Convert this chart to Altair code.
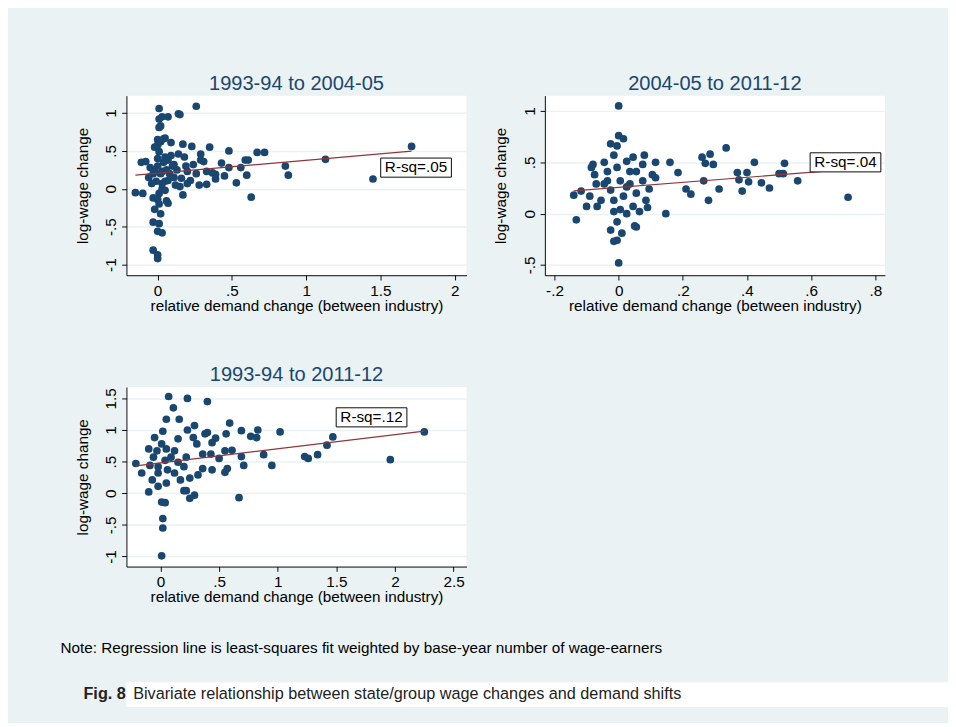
import altair as alt
import pandas as pd

# (relative demand change, log-wage change)
p1 = [(.01,1.06),(.26,1.09),(.01,.92),(.03,.95),(.07,.95),(.14,.99),(.15,.98),(.02,.83),(.01,.81),
      (.04,.66),(-.02,.55),(0,.65),(.05,.67),(.09,.61),(.17,.59),(.23,.56),(.35,.55),(.48,.50),
      (.67,.48),(.72,.48),(1.13,.39),(1.71,.56),(1.45,.13),(.86,.30),(.88,.18),(.63,-.11),(.53,.08),
      (.60,.18),(.56,.28),(.59,.38),(.61,.38),(.43,.34),(.48,.28),(.45,.17),(.39,.13),(.33,.06),
      (.28,.05),(-.15,-.05),(-.10,-.06),(-.11,.35),(-.08,.36),(-.05,.28),(-.06,.15),(-.02,-.27),
      (-.03,-.44),(0,-.56),(.03,-.58),(.01,-.46),(.02,-.33),(.07,-.19),(.06,-.16),(-.03,-.81),
      (0,-.87),(0,-.92),(-.04,.07),(.01,-.06),(.03,.07),(.05,-.02),(.11,.15),(.15,.03),(.17,-.08),
      (.2,.07),(.11,.32),(.2,.23),(.24,.32),(.29,.46),(.31,.36),(.33,.23),(.22,.11),(.09,.44),
      (.03,.23),(-.02,.23),(.01,.49),(.05,.42),(.14,.46),(.18,.42),(.07,.11),(0,-.14),(-.03,-.12),
      (.37,.21),(.39,.19),(.29,.38),(0,.3),(.02,.2),(-.01,.1),(.04,.35),(.06,.25),(.08,.2),(.1,.3),
      (.12,.05),(0,.4),(.03,0),(-.03,.2),(.05,.1),(.01,-.2),(.13,.25),(.07,.38),(.16,.14),(.19,.3),
      (.26,.2),(0,.58),(.02,.62)]
p2 = [(0,1.05),(0,.76),(.015,.73),(-.025,.68),(-.005,.66),(-.08,.48),(-.085,.45),(-.075,.38),
      (-.045,.5),(.045,.55),(.08,.57),(.115,.5),(.16,.5),(.185,.4),(.105,.38),(.115,.35),(.095,.24),
      (.21,.24),(.225,.19),(.265,.32),(.26,.55),(.285,.58),(.27,.49),(.295,.48),(.335,.64),(.28,.13),
      (.313,.24),(.37,.4),(.375,.33),(.4,.4),(.405,.31),(.423,.5),(.385,.22),(.445,.3),(.47,.25),
      (.5,.39),(.513,.39),(.517,.49),(.558,.32),(.715,.16),(-.14,.18),(-.117,.22),(-.132,-.06),
      (-.1,.07),(-.067,.07),(-.09,.17),(.147,0),(.05,-.12),(.055,-.13),(-.025,-.16),(-.015,-.27),
      (-.005,-.26),(0,-.48),(.01,-.19),(-.005,-.08),(-.015,.02),(.045,.07),(.065,.02),(.09,.06),
      (.085,.13),(-.045,.29),(-.025,.23),(.015,.17),(.035,.29),(.055,.41),(.025,.51),(-.015,.57),
      (-.035,.32),(.005,.32),(.025,.26),(-.055,.13),(-.015,.13),(.005,.04),(.075,.32),(-.07,.29),
      (-.005,.45),(-.035,.41),(.035,.41),(.055,.2),(.075,.48),(.025,0)]
p3 = [(.07,1.53),(.23,1.5),(.4,1.45),(.11,1.35),(.05,1.17),(.16,1.17),(.23,1.0),(.29,1.07),(.4,.96),
      (.38,.94),(.59,1.11),(.56,.94),(.69,.99),(.83,1.0),(.77,.9),(.82,.88),(1.02,.97),(1.47,.89),
      (1.42,.76),(1.34,.61),(1.23,.58),(1.26,.55),(1.96,.53),(2.25,.97),(.88,.61),(.95,.44),(.69,.58),
      (.71,.44),(.67,-.07),(.57,.39),(.55,.33),(.5,.55),(.55,.67),(.61,.68),(.44,.8),(.47,.87),
      (-.21,.47),(-.16,.32),(-.1,.02),(.02,-.4),(.02,-.55),(.01,-.99),(.01,-.14),(.04,-.15),(.25,-.08),
      (.29,-.03),(.22,.04),(.25,.24),(.32,.29),(.36,.39),(.44,.37),(.36,.62),(.43,.62),(.31,.78),
      (.28,.88),(.15,.86),(-.05,.88),(-.1,.7),(-.06,.57),(-.02,.42),(-.07,.21),(-.02,.11),(.05,.16),
      (.12,.32),(.17,.21),(.2,.42),(.09,.57),(.01,.78),(.05,.7),(.15,.49),(.22,.57),(.12,.67),
      (.2,.04),(.02,.98),(-.02,.32),(.04,.52),(.06,.37),(-.03,.67),(-.09,.44)]

titles = ['1993-94 to 2004-05', '2004-05 to 2011-12', '1993-94 to 2011-12']
rsq = ['R-sq=.05', 'R-sq=.04', 'R-sq=.12']
rsq_pos = [(1.74, .28), (.707, .5), (1.8, 1.2)]
x_dom = [(-.21, 2.08), (-.23, .83), (-.29, 2.61)]
y_dom = [(-1.14, 1.23), (-.6, 1.15), (-1.16, 1.68)]
x_ticks = [[0, .5, 1, 1.5, 2], [-.2, 0, .2, .4, .6, .8], [0, .5, 1, 1.5, 2, 2.5]]
y_ticks = [[-1, -.5, 0, .5, 1], [-.5, 0, .5, 1], [-1, -.5, 0, .5, 1, 1.5]]

NAVY = '#1a476f'
BG = '#eaf2f3'
strip0 = ("replace(replace(format(datum.value, '.1~f'), '\u2212', '-'), "
          "regexp('^(-?)0\\\\.'), '$1.')")


def panel(pts, i):
    df = pd.DataFrame(pts, columns=['x', 'y'])
    xs = alt.Scale(domain=list(x_dom[i]), nice=False, zero=False)
    ys = alt.Scale(domain=list(y_dom[i]), nice=False, zero=False)
    xe = alt.X('x:Q', scale=xs, title='relative demand change (between industry)',
               axis=alt.Axis(values=x_ticks[i], labelExpr=strip0, grid=False, titlePadding=0))
    ye = alt.Y('y:Q', scale=ys, title='log-wage change',
               axis=alt.Axis(values=y_ticks[i], labelExpr=strip0, labelAngle=270,
                             labelAlign='center', labelBaseline='bottom', titlePadding=14))
    base = alt.Chart(df)
    pts_layer = base.mark_circle(size=65, opacity=1, color=NAVY).encode(x=xe, y=ye)
    fit = base.transform_regression('x', 'y').mark_line(color='#90353b', strokeWidth=1.3).encode(x=xe, y=ye)
    lab = pd.DataFrame({'x': [rsq_pos[i][0]], 'y': [rsq_pos[i][1]], 't': [rsq[i]]})
    box = alt.Chart(lab).mark_rect(width=74, height=20, fill='white', stroke='black', strokeWidth=1).encode(x=xe, y=ye)
    txt = alt.Chart(lab).mark_text(fontSize=16, color='black').encode(x=xe, y=ye, text='t:N')
    return alt.layer(pts_layer, fit, box, txt).properties(
        width=356, height=188,
        title=alt.TitleParams(titles[i], fontSize=21, color=NAVY, font='Liberation Sans',
                              fontWeight='normal', anchor='middle', offset=2))


c1, c2, c3 = panel(p1, 0), panel(p2, 1), panel(p3, 2)

note = 'Note: Regression line is least-squares fit weighted by base-year number of wage-earners'
fig_x = [0, 52]
fig_t = ['Fig. 8', 'Bivariate relationship between state/group wage changes and demand shifts']
capx = alt.X('x:Q', scale=alt.Scale(domain=[0, 860]), axis=None)
cap_df = pd.DataFrame({'x': fig_x, 't': fig_t})
cap_b = alt.Chart(cap_df.iloc[:1]).mark_text(align='left', fontSize=17, fontWeight='bold', dx=-45,
                                             font='Liberation Sans', color='#222').encode(x=capx, text='t:N')
cap_n = alt.Chart(cap_df.iloc[1:]).mark_text(align='left', fontSize=17, dx=-45,
                                             font='Liberation Sans', color='#222').encode(x=capx, text='t:N')
cap = alt.layer(cap_b, cap_n).properties(width=860, height=26, view=alt.ViewBackground(fill='white', stroke=None))

top = alt.hconcat(c1, c2, spacing=28)
chart = alt.vconcat(top, c3, spacing=54).properties(
    title=alt.TitleParams(note, orient='bottom', anchor='start', fontSize=16, font='Liberation Sans',
                          fontWeight='normal', offset=37, dx=-15))
chart = alt.vconcat(chart, cap, spacing=28).properties(background=BG, padding={'left': 55, 'top': 52, 'right': 0, 'bottom': 0}
).configure_view(fill='white', stroke=None
).configure_axis(labelFont='Liberation Sans', titleFont='Liberation Sans', labelFontSize=16, titleFontSize=16,
                 titleFontWeight='normal', labelColor='black', titleColor='black', domainColor='black',
                 tickColor='black', tickSize=5, gridColor=BG, gridWidth=1.5, labelPadding=3)

chart.save('out.html', embed_options={'renderer': 'svg', 'actions': False})
